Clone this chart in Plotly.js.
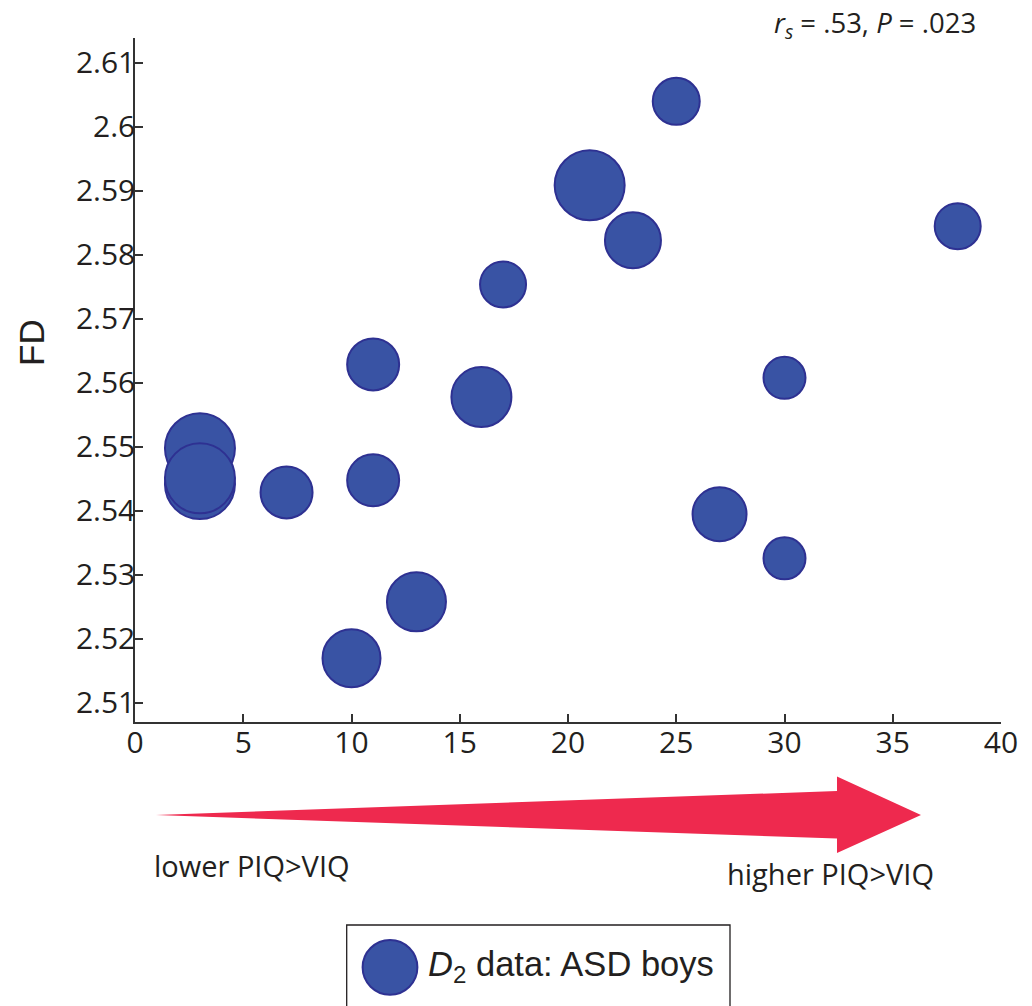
<!DOCTYPE html>
<html>
<head>
<meta charset="utf-8">
<script src="https://cdn.plot.ly/plotly-3.0.1.min.js"></script>
<style>
  html, body { margin: 0; padding: 0; background: #ffffff; }
  #chart { width: 1032px; height: 1006px; }
</style>
</head>
<body>
<div id="chart"></div>
<script>
// ---- data ----
const piqMinusViq = [3, 3, 3, 7, 10, 11, 11, 13, 16, 17, 21, 23, 25, 27, 30, 30, 38];
const fdValues = [2.5498, 2.5442, 2.5451, 2.5429, 2.5170, 2.5629, 2.5448, 2.5258, 2.5578,
                  2.5754, 2.5909, 2.5823, 2.6040, 2.5395, 2.5608, 2.5326, 2.5845];
const bubbleValue = [72, 72, 72, 54, 60, 54, 54, 61, 62, 48, 72, 58, 49, 56, 44, 44, 48];
const yTickVals = [2.51, 2.52, 2.53, 2.54, 2.55, 2.56, 2.57, 2.58, 2.59, 2.60, 2.61];
const yTickText = ['2.51', '2.52', '2.53', '2.54', '2.55', '2.56', '2.57', '2.58', '2.59', '2.6', '2.61'];
const xTickVals = [0, 5, 10, 15, 20, 25, 30, 35, 40];
const yAxisLabel = 'FD';
const statsText = '<i>r</i><sub><i>s</i></sub> = .53, <i>P</i> = .023';
const legendText = '<i>D</i><sub>2</sub> data: ASD boys';
const arrowLeftText = 'lower PIQ&gt;VIQ';
const arrowRightText = 'higher PIQ&gt;VIQ';

// ---- layout geometry ----
const W = 1032, H = 1006;
const M = { l: 135, r: 31, t: 38, b: 284 };
const PW = W - M.l - M.r, PH = H - M.t - M.b;
const px = v => (v - M.l) / PW;      // pixel x -> paper
const py = v => (H - M.b - v) / PH;  // pixel y -> paper

const FILL = '#3953a4', EDGE = '#2e3192', STROKE = 2;
const AXIS = '#333333', TXT = '#231f20';
const tickFont = { family: '"Open Sans", sans-serif', size: 30, color: TXT };
const labelFont = { family: '"Open Sans", sans-serif', size: 29, color: TXT };

const trace = {
  type: 'scatter',
  mode: 'markers',
  x: piqMinusViq,
  y: fdValues,
  marker: {
    size: bubbleValue.map(d => d - STROKE),
    sizemode: 'diameter',
    color: FILL,
    opacity: 1,
    line: { color: EDGE, width: STROKE }
  },
  cliponaxis: false,
  hoverinfo: 'x+y',
  showlegend: false
};

// arrow polygon (pixel coords -> paper)
const arrowPts = [[156, 815], [837, 791], [837, 776.5], [921, 815], [837, 853], [837, 838.5]];
const arrowPath = 'M ' + arrowPts.map(p => px(p[0]).toFixed(5) + ' ' + py(p[1]).toFixed(5)).join(' L ') + ' Z';

const legCx = 390, legCy = 967.3, legR = 27.4;

const layout = {
  width: W, height: H,
  margin: M,
  paper_bgcolor: '#ffffff',
  plot_bgcolor: '#ffffff',
  showlegend: false,
  xaxis: {
    range: [0, 40],
    tickvals: xTickVals,
    ticks: 'inside', ticklen: 8, tickwidth: 1.5, tickcolor: AXIS,
    showline: true, linecolor: AXIS, linewidth: 1.5,
    showgrid: false, zeroline: false,
    tickfont: tickFont,
    ticklabelstandoff: -7,
    fixedrange: true
  },
  yaxis: {
    range: [2.50703, 2.6139],
    tickvals: yTickVals,
    ticktext: yTickText,
    ticks: 'inside', ticklen: 8, tickwidth: 1.5, tickcolor: AXIS,
    showline: true, linecolor: AXIS, linewidth: 1.5,
    showgrid: false, zeroline: false,
    tickfont: tickFont,
    ticklabelstandoff: -8,
    fixedrange: true
  },
  shapes: [
    { type: 'path', xref: 'paper', yref: 'paper', path: arrowPath,
      fillcolor: '#ee294e', line: { width: 0 } },
    { type: 'rect', xref: 'paper', yref: 'paper',
      x0: px(346.7), x1: px(730), y0: py(925), y1: py(1012),
      line: { color: TXT, width: 1.3 }, fillcolor: 'rgba(0,0,0,0)' },
    { type: 'circle', xref: 'paper', yref: 'paper',
      x0: px(legCx - legR), x1: px(legCx + legR), y0: py(legCy + legR), y1: py(legCy - legR),
      fillcolor: FILL, line: { color: EDGE, width: STROKE } }
  ],
  annotations: [
    { xref: 'paper', yref: 'paper', x: px(31), y: py(343), text: yAxisLabel, textangle: -90,
      showarrow: false, xanchor: 'center', yanchor: 'middle',
      font: { family: '"Liberation Sans", Arial, sans-serif', size: 35, color: TXT } },
    { xref: 'paper', yref: 'paper', x: px(978), y: py(25), text: statsText,
      showarrow: false, xanchor: 'right', yanchor: 'middle',
      font: { family: '"Open Sans", sans-serif', size: 27.5, color: TXT } },
    { xref: 'paper', yref: 'paper', x: px(152), y: py(865), text: arrowLeftText,
      showarrow: false, xanchor: 'left', yanchor: 'middle', font: labelFont },
    { xref: 'paper', yref: 'paper', x: px(725), y: py(873), text: arrowRightText,
      showarrow: false, xanchor: 'left', yanchor: 'middle', font: labelFont },
    { xref: 'paper', yref: 'paper', x: px(426), y: py(966), text: legendText,
      showarrow: false, xanchor: 'left', yanchor: 'middle',
      font: { family: '"Liberation Sans", Arial, sans-serif', size: 34.5, color: TXT } }
  ]
};

Plotly.newPlot('chart', [trace], layout, { displayModeBar: false, responsive: false });
</script>
</body>
</html>
